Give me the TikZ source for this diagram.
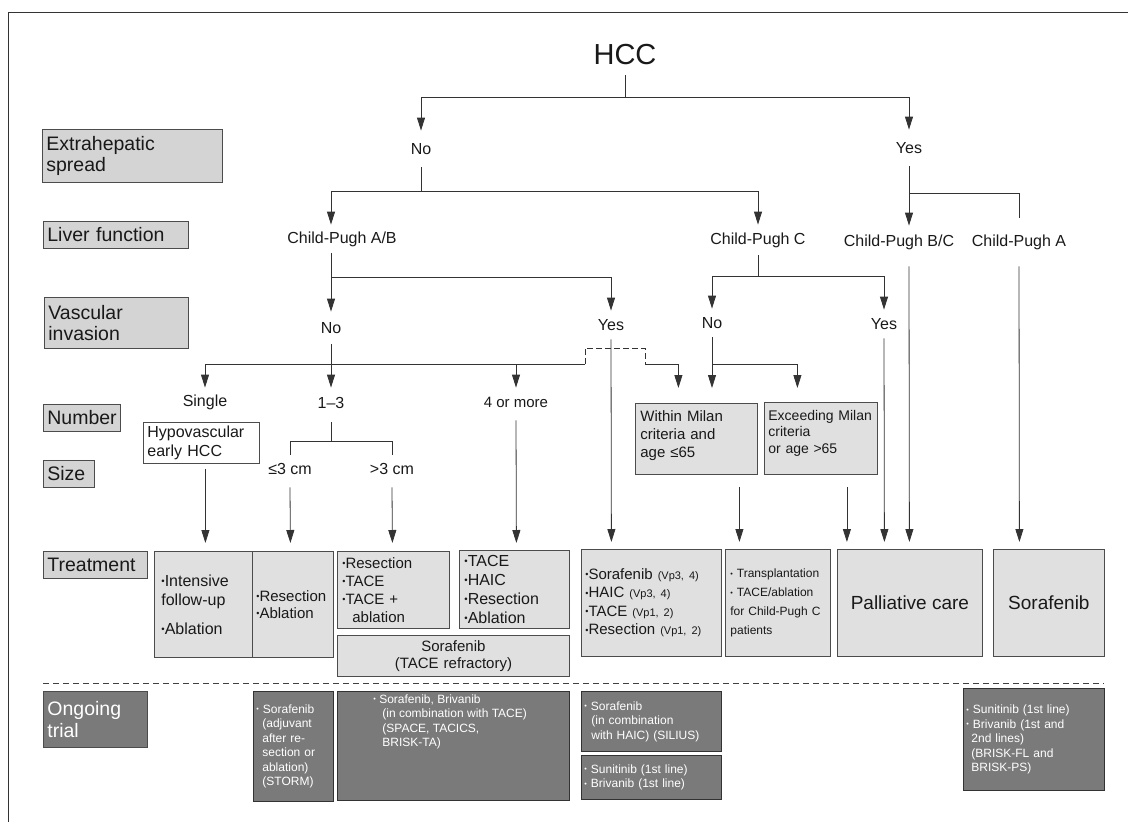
\documentclass[tikz,border=0pt]{standalone}
\usepackage{fontspec}
\setmainfont{Liberation Sans}
\usetikzlibrary{arrows.meta}
\newcommand\bu{\raisebox{0.12em}{\scalebox{0.6}{\textbullet}}}
\newcommand\fs[2]{\fontsize{#1}{#2}\selectfont}
\begin{document}
\begin{tikzpicture}[x=1pt,y=-1pt,line width=0.8pt,
  ln/.style={draw=black!80},
  arr/.style={draw=black!80,-{Triangle[length=13pt,width=8pt]}},
  tx/.style={inner sep=0pt,text=black!90,font=\fs{16}{19}},
  lab/.style={draw=black!70,fill=black!17,anchor=north west,inner xsep=4pt,inner ysep=0pt,align=left,font=\fs{19.5}{21.5},text=black!90},
  tb/.style={draw=black!70,fill=black!12,anchor=north west,inner xsep=5pt,inner ysep=0pt,text=black!90},
  ob/.style={draw=black!80,fill=black!52,anchor=north west,inner xsep=3pt,inner ysep=0pt,text=white,font=\fs{12}{14.5}},
  sep/.style={draw=black!75,dash pattern=on 6pt off 4pt}]
\useasboundingbox (0,0) rectangle (1128,822);
\coordinate (fa) at (1128,12);
\coordinate (fb) at (8,12);
\coordinate (fc) at (8,822);
\draw[black!80] (fa) -- (fb) -- (fc);

% level texts
\node[tx,font=\fs{29}{30},minimum height=40pt] (hcc) at (625,55) {HCC};
\node[tx,minimum height=36pt] (no1) at (421,149) {No};
\node[tx,minimum height=36pt] (yes1) at (909,148) {Yes};
\node[tx,minimum height=28pt] (cpab) at (342,239) {Child-Pugh A/B};
\node[tx,minimum height=30pt] (cpc) at (758,240) {Child-Pugh C};
\node[tx,minimum height=48pt] (cpbc) at (899,242) {Child-Pugh B/C};
\node[tx,minimum height=48pt] (cpa) at (1019,242) {Child-Pugh A};
\node[tx,minimum height=32pt] (vno1) at (331,328) {No};
\node[tx,minimum height=28pt] (vyes1) at (611,325) {Yes};
\node[tx,minimum height=28pt] (vno2) at (712,323) {No};
\node[tx,minimum height=28pt] (vyes2) at (884,324) {Yes};
\node[tx,minimum height=28pt] (single) at (205,402) {Single};
\node[tx,minimum height=30pt] (n13) at (331,403) {1--3};
\node[tx,font=\fs{15}{18},minimum height=28pt] (four) at (516,402) {4 or more};
\node[tx,minimum height=28pt] (le3) at (290,469) {≤3 cm};
\node[tx,minimum height=28pt] (gt3) at (392,469) {>3 cm};

% left labels
\node[lab,minimum height=53pt,text width=172pt] (ext) at (42,129) {Extrahepatic\\spread};
\node[lab,minimum height=27pt,text width=137pt] (liv) at (43,221) {Liver function};
\node[lab,minimum height=51pt,text width=136pt] (vas) at (44,297) {Vascular\\invasion};
\node[lab,minimum height=27pt,text width=69pt] (num) at (43,404) {Number};
\node[lab,minimum height=27pt,text width=43pt] (size) at (43,460) {Size};
\node[lab,minimum height=27pt,text width=96pt] (treat) at (43,551) {Treatment};
\node[lab,fill=black!52,text=white,minimum height=56pt,text width=96pt] (ongo) at (43,691) {Ongoing\\trial};

% intermediate boxes
\node[tb,fill=white,inner xsep=4pt,minimum height=41pt,text width=108pt,align=left,font=\fs{16}{19}] (hypo) at (143,422) {Hypovascular\\early HCC};
\node[tb,minimum height=71pt,text width=112pt,align=left,font=\fs{15}{18}] (wm) at (635,403) {Within Milan\\criteria and\\age ≤65\\[-8pt]\mbox{}};
\node[tb,inner xsep=4pt,minimum height=72pt,text width=105pt,align=left,font=\fs{14}{16.5}] (em) at (764,402) {Exceeding Milan\\criteria\\or age >65\\[-3pt]\mbox{}};

% treatment boxes
\node[tb,inner xsep=7pt,minimum height=106pt,text width=84pt,align=left,font=\fs{16}{19}] (t1) at (154,551) {\bu Intensive\\follow-up\\[10pt]\bu Ablation};
\node[tb,inner xsep=4pt,minimum height=106pt,text width=73pt,align=left,font=\fs{15}{17}] (t2) at (252,551) {\bu Resection\\\bu Ablation};
\node[tb,minimum height=77pt,text width=102pt,align=left,font=\fs{15}{18}] (t3) at (337,551) {\bu Resection\\\bu TACE\\\bu TACE +\\\hspace*{10pt}ablation};
\node[tb,minimum height=78pt,text width=100pt,align=left,font=\fs{16}{19}] (t4) at (459,550) {\bu TACE\\\bu HAIC\\\bu Resection\\\bu Ablation};
\node[tb,minimum height=41pt,text width=222pt,align=center,font=\fs{15}{17}] (t5) at (337,635) {Sorafenib\\(TACE refractory)};
\node[tb,inner xsep=4pt,minimum height=107pt,text width=132pt,align=left,font=\fs{15}{18.5}] (t6) at (581,549) {\bu Sorafenib {\fs{11}{18.5}(Vp3, 4)}\\\bu HAIC {\fs{11}{18.5}(Vp3, 4)}\\\bu TACE {\fs{11}{18.5}(Vp1, 2)}\\\bu Resection {\fs{11}{18.5}(Vp1, 2)}};
\node[tb,minimum height=107pt,text width=95pt,align=left,font=\fs{12}{19}] (t7) at (725,549) {\bu\ Transplantation\\\bu\ TACE/ablation\\for Child-Pugh C\\patients};
\node[tb,minimum height=107pt,minimum width=145pt,font=\fs{19}{22}] (pal) at (837,549) {Palliative care};
\node[tb,minimum height=107pt,minimum width=111pt,font=\fs{19}{22}] (sor) at (993,549) {Sorafenib};

% ongoing trial boxes
\node[ob,minimum height=110pt,text width=74pt,align=left] (o1) at (253,691) {\bu\ Sorafenib\\\hspace*{6pt}(adjuvant\\\hspace*{6pt}after re-\\\hspace*{6pt}section or\\\hspace*{6pt}ablation)\\\hspace*{6pt}(STORM)};
\node[ob,inner sep=0pt,minimum width=232pt] (o2) at (337,691) {\parbox[c][109pt][t]{160pt}{\vspace*{3pt}\bu\ Sorafenib, Brivanib\\\hspace*{9pt}(in combination with TACE)\\\hspace*{9pt}(SPACE, TACICS,\\\hspace*{9pt}BRISK-TA)}};
\node[ob,minimum height=60pt,text width=134pt,align=left] (o3) at (581,691) {\bu\ Sorafenib\\\hspace*{7pt}(in combination\\\hspace*{7pt}with HAIC) (SILIUS)};
\node[ob,minimum height=44pt,text width=134pt,align=left] (o4) at (581,755) {\bu\ Sunitinib (1st line)\\\bu\ Brivanib (1st line)};
\node[ob,minimum height=102pt,text width=135pt,align=left] (o5) at (963,688) {\bu\ Sunitinib (1st line)\\\bu\ Brivanib (1st and\\\hspace*{5pt}2nd lines)\\\hspace*{5pt}(BRISK-FL and\\\hspace*{5pt}BRISK-PS)};

\coordinate (sepL) at (43,683);
\coordinate (sepR) at (1104,683);
\draw[sep] (sepL) -- (sepR);

% connectors
\coordinate (j1) at (625,97);
\draw[ln] (hcc.south) -- (j1);
\draw[arr] (j1) -| (no1.north);
\draw[arr] (j1) -| (yes1.north);
\coordinate (j2) at (421,191);
\draw[ln] (no1.south) -- (j2);
\draw[arr] (j2) -| ([xshift=-11pt]cpab.north);
\draw[arr] (j2) -| (cpc.north);
\draw[arr] (yes1.south) -- ([xshift=10pt,yshift=-8pt]cpbc.north);
\coordinate (j3) at (909,193);
\draw[ln] (j3) -| (cpa.north);

\coordinate (j4) at (331,277);
\draw[ln] ([xshift=-11pt]cpab.south) -- (j4);
\draw[arr] (j4) -- (vno1.north);
\draw[arr] (j4) -| (vyes1.north);
\coordinate (j5) at (758,276);
\draw[ln] (cpc.south) -- (j5);
\draw[arr] (j5) -| (vno2.north);
\draw[arr] (j5) -| (vyes2.north);

\coordinate (j6) at (331,364);
\draw[arr] (vno1.south) -- (n13.north);
\draw[arr] (j6) -| (single.north);
\draw[arr] (j6) -| (four.north);
\coordinate (b1) at (585,364);
\coordinate (b1u) at (585,348);
\coordinate (b2u) at (645,348);
\coordinate (b2) at (645,364);
\draw[ln] (j6) -- (b1);
\draw[ln,dash pattern=on 6pt off 3pt] (b1) -- (b1u) -- (b2u) -- (b2);
\draw[arr] (b2) -| ([xshift=-18pt,yshift=15pt]wm.north);
\coordinate (wmtop) at ([yshift=15pt]wm.north);
\draw[arr] (vno2.south) -- (vno2.south |- wmtop);
\coordinate (j7) at (712,364);
\draw[arr] (j7) -| ([xshift=-23.5pt,yshift=14pt]em.north);

\draw[arr] (vyes1.south) -- ([xshift=-40pt,yshift=7pt]t6.north);
\draw[arr] (vyes2.south) -- ([xshift=-25.5pt,yshift=7pt]pal.north);
\draw[arr] ([xshift=10pt]cpbc.south) -- ([xshift=-0.5pt,yshift=7pt]pal.north);
\draw[arr] ([xshift=26pt,yshift=-12pt]em.south) -- ([xshift=-63pt,yshift=7pt]pal.north);
\draw[arr] ([xshift=43pt,yshift=-12pt]wm.south) -- ([xshift=-38.5pt,yshift=7pt]t7.north);
\draw[arr] (cpa.south) -- ([xshift=-29.5pt,yshift=7pt]sor.north);

\coordinate (j8) at (331,441);
\draw[ln] ([yshift=-4pt]n13.south) -- (j8);
\draw[ln] (j8) -| (le3.north);
\draw[ln] (j8) -| (gt3.north);
\draw[arr] ([yshift=-4pt]le3.south) -- ([xshift=-2.5pt,yshift=8pt]t2.north);
\draw[arr] ([yshift=-4pt]gt3.south) -- ([xshift=-1pt,yshift=8pt]t3.north);
\draw[arr] ([yshift=-4pt]four.south) -- ([xshift=2pt,yshift=7pt]t4.north);
\draw[arr] ([xshift=4pt,yshift=-5pt]hypo.south) -- ([xshift=2pt,yshift=8pt]t1.north);
\end{tikzpicture}
\end{document}
